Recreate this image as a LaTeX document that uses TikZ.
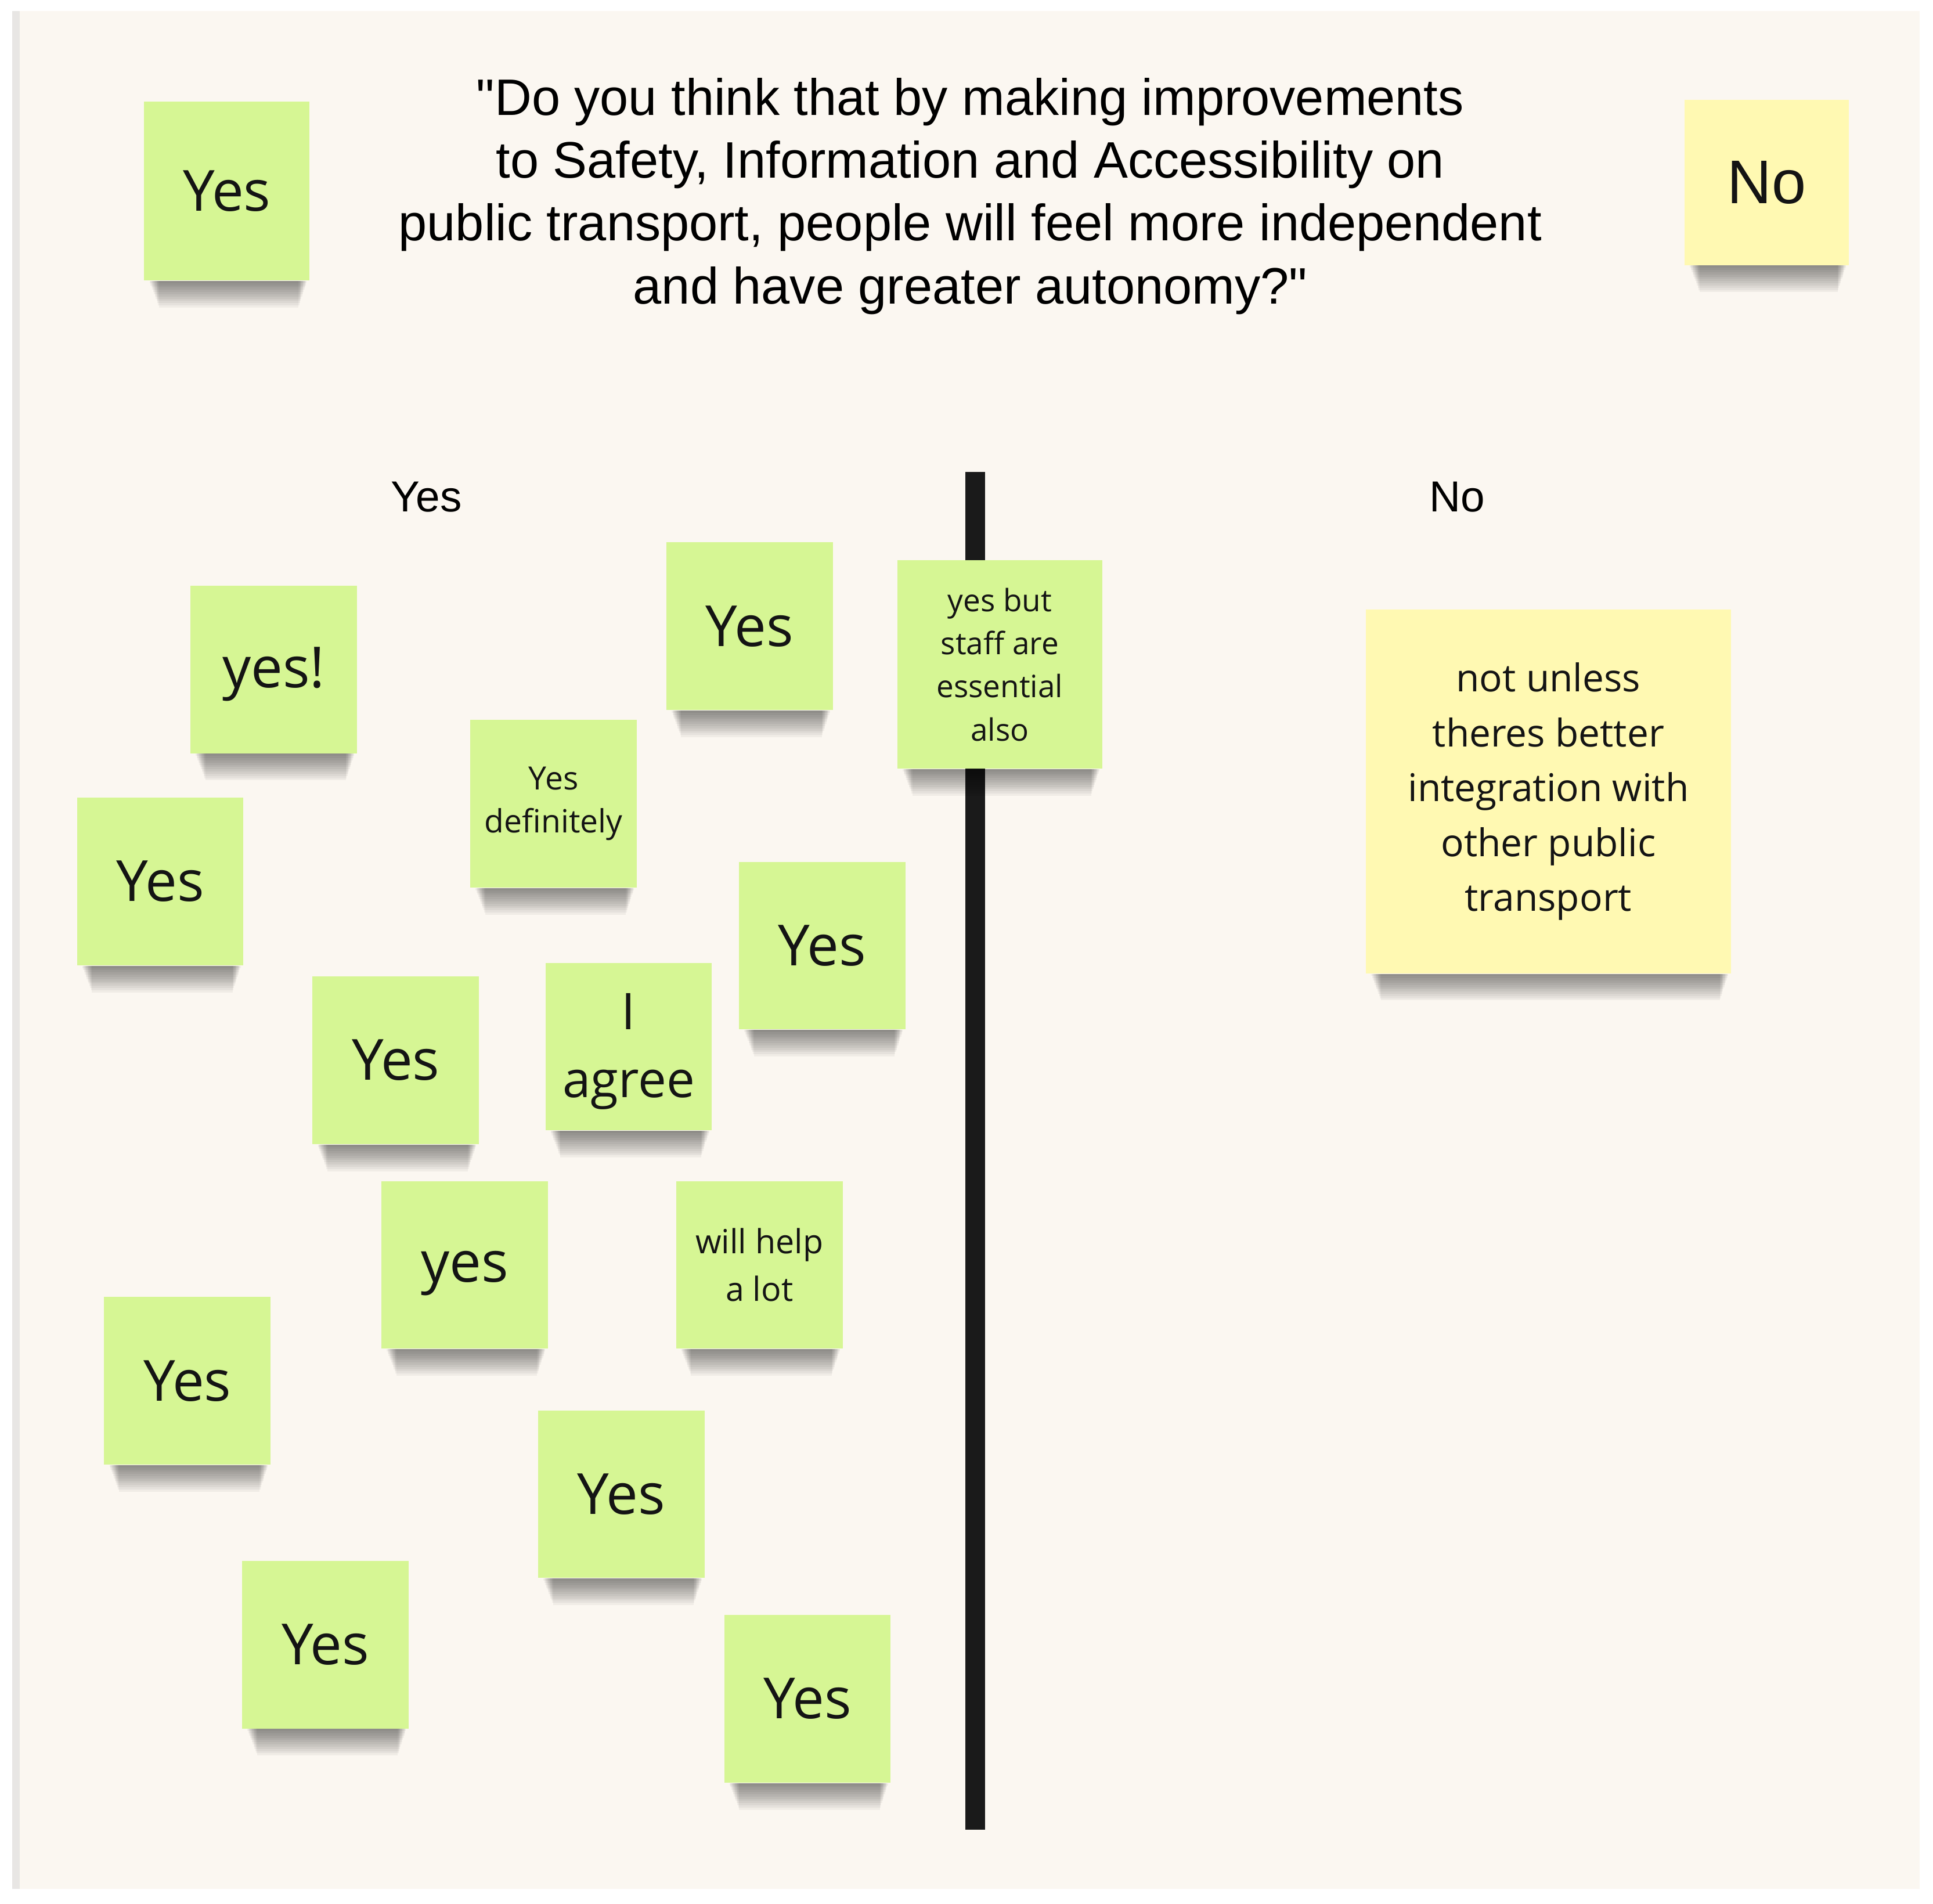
\documentclass[tikz,border=0pt]{standalone}
\usepackage{fontspec}
\setmainfont{Open Sans}
\newfontfamily\titlefont{Liberation Sans}
\definecolor{bgc}{RGB}{251,247,241}
\definecolor{stgreen}{RGB}{214,246,148}
\definecolor{styellow}{RGB}{255,249,178}
\definecolor{linec}{RGB}{26,26,26}
\definecolor{stripc}{RGB}{232,230,228}
\newcommand\stickyshadow[1]{%
  \foreach \k in {1,...,12}{%
    \fill[black,opacity=0.045] ([xshift={2pt+0.35pt*\k}]#1.south west) rectangle ([xshift={-1pt-0.3pt*\k},yshift={-0.9pt*\k}]#1.south east);
  }%
}
\begin{document}
\begin{tikzpicture}[x=0.5pt,y=-0.5pt,
  stickybox/.style={rectangle, inner sep=0pt, align=center, minimum width=67.5pt, minimum height=68pt, text=black!92},
  gsticky/.style={stickybox, fill=stgreen},
  ysticky/.style={stickybox, fill=styellow},
  stickytext/.style={inner sep=0pt, align=center, text=black!92},
  bigtext/.style={font=\fontsize{23}{30}\selectfont},
  smalltext/.style={font=\fontsize{12.5}{17.5}\selectfont},
  midtext/.style={font=\fontsize{13.5}{19.5}\selectfont},
  notext/.style={font=\fontsize{15.5}{22.25}\selectfont},
  headtext/.style={font=\titlefont\fontsize{20.8}{25.5}\selectfont, align=center},
  labeltext/.style={font=\titlefont\fontsize{17.6}{20}\selectfont},
  divider/.style={draw=linec, line width=8pt}
]
\useasboundingbox (0,0) rectangle (1568,1544);
\fill[white] (0,0) rectangle (1568,1544);
\fill[stripc] (10,9) rectangle (16,1532);
\fill[bgc] (16,9) rectangle (1557,1532);

% divider
\coordinate (ltop) at (791,383);
\coordinate (lbot) at (791,1484);
\draw[divider] (ltop) -- (lbot);

% title and labels
\node[headtext] (title) at (787,159) {"Do you think that by making improvements\\to Safety, Information and Accessibility on\\public transport, people will feel more independent\\and have greater autonomy?"};
\node[labeltext] (ylab) at (346,403) {Yes};
\node[labeltext] (nlab) at (1182,403) {No};

% header stickies
\node[gsticky, bigtext, minimum width=67pt, minimum height=72.5pt] (hyes) at (184,155) {Yes};
\node[ysticky, font=\titlefont\fontsize{25}{28}\selectfont, minimum width=66.5pt, minimum height=67pt] (hno) at (1433,148) {No};

% yes stickies
\node[gsticky] (s1) at (222,543) {};
\node[stickytext, bigtext] (s1t) at (222,547) {yes!};
\node[gsticky, bigtext] (s2) at (608,508) {Yes};
\node[gsticky, smalltext, minimum width=83pt, minimum height=84.5pt] (s3) at (811,539) {yes but\\staff are\\essential\\also};
\node[gsticky, font=\fontsize{13}{17.5}\selectfont] (s4) at (449,652) {Yes\\definitely};
\node[gsticky, bigtext] (s5) at (130,715) {Yes};
\node[gsticky, bigtext] (s6) at (667,767) {Yes};
\node[gsticky, bigtext] (s7) at (321,860) {Yes};
\node[gsticky] (s8) at (510,849) {};
\node[stickytext, font=\fontsize{20.5}{27.5}\selectfont] (s8t) at (510,853) {I\\agree};
\node[gsticky] (s9) at (377,1026) {};
\node[stickytext, bigtext] (s9t) at (377,1033) {yes};
\node[gsticky, midtext] (s10) at (616,1026) {will help\\a lot};
\node[gsticky, bigtext] (s11) at (152,1120) {Yes};
\node[gsticky, bigtext] (s12) at (504,1212) {Yes};
\node[gsticky, bigtext] (s13) at (264,1334) {Yes};
\node[gsticky, bigtext] (s14) at (655,1378) {Yes};

% no sticky
\node[ysticky, notext, minimum width=148pt, minimum height=147.5pt] (n1) at (1256,642) {not unless\\theres better\\integration with\\other public\\transport};

% shadows
\foreach \s in {hyes,hno,s1,s2,s3,s4,s5,s6,s7,s8,s9,s10,s11,s12,s13,s14,n1}{\stickyshadow{\s}}
\end{tikzpicture}
\end{document}
